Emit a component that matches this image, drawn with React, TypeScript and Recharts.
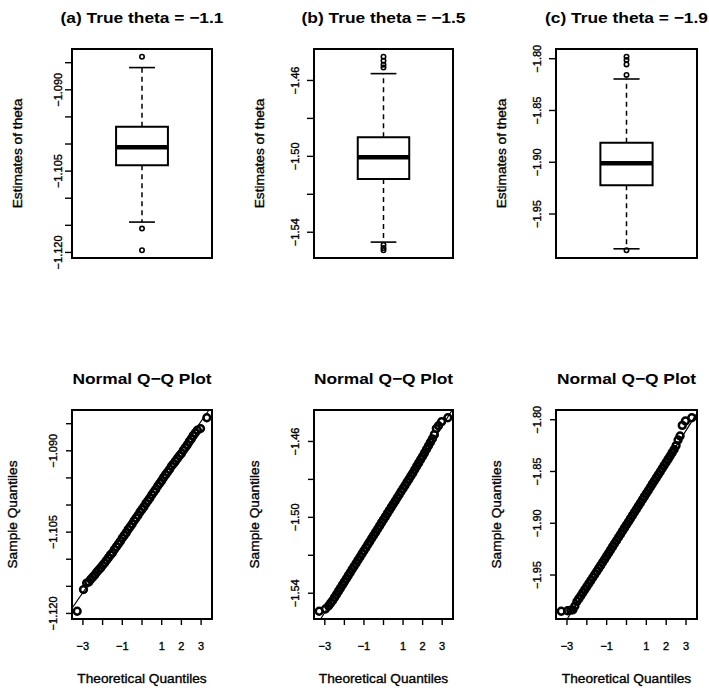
import React from 'react';
import { ComposedChart, Scatter, XAxis, YAxis, ReferenceArea, ReferenceLine } from 'recharts';

// ---------- data ----------
const panelTitles = ['(a) True theta = \u22121.1', '(b) True theta = \u22121.5', '(c) True theta = \u22121.9'];
const qqTitle = 'Normal Q\u2212Q Plot';
const boxYLabel = 'Estimates of theta';
const qqYLabel = 'Sample Quantiles';
const qqXLabel = 'Theoretical Quantiles';

// [lower whisker, Q1, median, Q3, upper whisker]
const boxStatsA = [-1.1144, -1.1039, -1.1006, -1.0968, -1.0859];
const boxStatsB = [-1.5452, -1.512, -1.5005, -1.4899, -1.4564];
const boxStatsC = [-1.9836, -1.9221, -1.901, -1.8811, -1.8196];

const outliersA = [-1.0839, -1.1156, -1.1196];
const outliersB = [-1.4475, -1.4496, -1.4517, -1.4532, -1.5467, -1.5483, -1.5495];
const outliersC = [-1.7981, -1.8012, -1.8055, -1.8157, -1.985];

const theoretical = [
  -3.29, -2.97, -2.81, -2.7, -2.6, -2.5, -2.4, -2.3, -2.2, -2.1, -2.0, -1.9, -1.8, -1.7, -1.6, -1.5,
  -1.4, -1.3, -1.2, -1.1, -1.0, -0.9, -0.8, -0.7, -0.6, -0.5, -0.4, -0.3, -0.2, -0.1, 0, 0.1, 0.2,
  0.3, 0.4, 0.5, 0.6, 0.7, 0.8, 0.9, 1.0, 1.1, 1.2, 1.3, 1.4, 1.5, 1.6, 1.7, 1.8, 1.9, 2.0, 2.1,
  2.2, 2.3, 2.4, 2.5, 2.6, 2.7, 2.81, 2.97, 3.29,
];

const sampleA = [
  -1.1196, -1.1156, -1.1144, -1.1142, -1.1137, -1.1133, -1.1129, -1.1124, -1.112, -1.1116, -1.1111,
  -1.1107, -1.1102, -1.1097, -1.1092, -1.1088, -1.1082, -1.1077, -1.1072, -1.1067, -1.1061, -1.1056,
  -1.1051, -1.1045, -1.104, -1.1035, -1.1029, -1.1024, -1.1019, -1.1013, -1.1008, -1.1003, -1.0997,
  -1.0992, -1.0987, -1.0981, -1.0976, -1.0971, -1.0965, -1.096, -1.0955, -1.0949, -1.0944, -1.0939,
  -1.0934, -1.0928, -1.0924, -1.0919, -1.0914, -1.0909, -1.0905, -1.0899, -1.0894, -1.0889, -1.0883,
  -1.0878, -1.0872, -1.0867, -1.0862, -1.0859, -1.0839,
];

const sampleB = [
  -1.5495, -1.5483, -1.5467, -1.5452, -1.5438, -1.5422, -1.5406, -1.5389, -1.5373, -1.5356, -1.534,
  -1.5324, -1.5307, -1.5291, -1.5274, -1.5258, -1.5242, -1.5225, -1.5209, -1.5192, -1.5176, -1.516,
  -1.5143, -1.5127, -1.511, -1.5094, -1.5078, -1.5061, -1.5045, -1.5028, -1.5012, -1.4996, -1.4979,
  -1.4963, -1.4946, -1.493, -1.4914, -1.4897, -1.4881, -1.4864, -1.4848, -1.4832, -1.4815, -1.4799,
  -1.4782, -1.4766, -1.4748, -1.473, -1.4713, -1.4695, -1.4678, -1.466, -1.4641, -1.4623, -1.4604,
  -1.4586, -1.4564, -1.4532, -1.4517, -1.4496, -1.4475,
];

const sampleC = [
  -1.985, -1.9845, -1.984, -1.9836, -1.98, -1.9755, -1.9728, -1.97, -1.967, -1.9641, -1.9612,
  -1.9583, -1.9554, -1.9524, -1.9495, -1.9466, -1.9436, -1.9407, -1.9377, -1.9347, -1.9317, -1.9287,
  -1.9257, -1.9226, -1.9196, -1.9166, -1.9136, -1.9106, -1.9075, -1.9045, -1.9015, -1.8985, -1.8955,
  -1.8924, -1.8894, -1.8864, -1.8834, -1.8804, -1.8773, -1.8743, -1.8713, -1.8683, -1.8653, -1.8622,
  -1.8592, -1.8562, -1.8532, -1.8502, -1.8471, -1.8441, -1.8411, -1.8381, -1.8351, -1.8318, -1.8287,
  -1.825, -1.8196, -1.8157, -1.8055, -1.8012, -1.7981,
];

const yTicksA = [-1.085, -1.09, -1.095, -1.1, -1.105, -1.11, -1.115, -1.12];
const yTickLabelsA = ['', '\u22121.090', '', '', '\u22121.105', '', '', '\u22121.120'];
const yTicksB = [-1.46, -1.48, -1.5, -1.52, -1.54];
const yTickLabelsB = ['\u22121.46', '', '\u22121.50', '', '\u22121.54'];
const yTicksC = [-1.8, -1.85, -1.9, -1.95];
const yTickLabelsC = ['\u22121.80', '\u22121.85', '\u22121.90', '\u22121.95'];

const qqXTicks = [-3, -2, -1, 0, 1, 2, 3];
const qqXTickLabels = ['\u22123', '', '\u22121', '', '1', '2', '3'];

// ---------- layout ----------
const FONT = '"Liberation Sans", Arial, Helvetica, sans-serif';
const colLeft = [72, 314, 556];
const colWidth = [140, 139, 141];
const rowTop = [49, 410];
const PLOT_H = 209;
const Y_AXIS_W = 60;
const M = 5;
const BOX_BOTTOM = 24;
const X_AXIS_H = 40;
const IQR_TO_SD = 1.349;
const TEXT_EDGE = 0.35;

type Column = {
  stats: number[];
  outliers: number[];
  sample: number[];
  yTicks: number[];
  yLabels: string[];
};

const columns: Column[] = [
  { stats: boxStatsA, outliers: outliersA, sample: sampleA, yTicks: yTicksA, yLabels: yTickLabelsA },
  { stats: boxStatsB, outliers: outliersB, sample: sampleB, yTicks: yTicksB, yLabels: yTickLabelsB },
  { stats: boxStatsC, outliers: outliersC, sample: sampleC, yTicks: yTicksC, yLabels: yTickLabelsC },
];

// R-style axis range: data range widened by 4% on each side
function padRange(vals: number[]): [number, number] {
  const lo = Math.min(...vals);
  const hi = Math.max(...vals);
  const p = (hi - lo) * 0.04;
  return [lo - p, hi + p];
}

function makeYTick(values: number[], labels: string[]) {
  return (props: any) => {
    const { x, y, payload } = props;
    const i = values.findIndex((v) => Math.abs(v - payload.value) < 1e-9);
    const label = i >= 0 ? labels[i] : '';
    if (!label) return <g />;
    return (
      <text
        transform={`translate(${x},${y}) rotate(-90)`}
        textAnchor="middle"
        fontSize={11}
        fontFamily={FONT}
        fill="#000"
        stroke="#000"
        strokeWidth={TEXT_EDGE}
      >
        {label}
      </text>
    );
  };
}

function QQXTick(props: any) {
  const { x, y, payload } = props;
  const i = qqXTicks.findIndex((v) => Math.abs(v - payload.value) < 1e-9);
  const label = i >= 0 ? qqXTickLabels[i] : '';
  if (!label) return <g />;
  return (
    <text
      x={x}
      y={y}
      textAnchor="middle"
      fontSize={11}
      fontFamily={FONT}
      fill="#000"
      stroke="#000"
      strokeWidth={TEXT_EDGE}
    >
      {label}
    </text>
  );
}

const OpenCircle = (r: number, sw: number) => (props: any) => (
  <circle cx={props.cx} cy={props.cy} r={r} fill="none" stroke="#000" strokeWidth={sw} />
);

const axisTick = { stroke: '#000', strokeWidth: 1.4 };

function BoxPanel({ col, labelGap }: { col: number; labelGap: number }) {
  const c = columns[col];
  const [lowW, q1, med, q3, highW] = c.stats;
  const yDomain = padRange(c.sample);
  const xDomain: [number, number] = [0.46, 1.54];
  const outlierData = c.outliers.map((v) => ({ x: 1, y: v }));
  const w = Y_AXIS_W + colWidth[col] + M;
  const h = M + PLOT_H + BOX_BOTTOM;
  return (
    <div style={{ position: 'absolute', left: colLeft[col] - Y_AXIS_W, top: rowTop[0] - M }}>
      <ComposedChart width={w} height={h} margin={{ top: M, right: M, bottom: BOX_BOTTOM, left: 0 }}>
        <XAxis type="number" dataKey="x" domain={xDomain} allowDataOverflow hide />
        <YAxis
          type="number"
          dataKey="y"
          domain={yDomain}
          allowDataOverflow
          width={Y_AXIS_W}
          ticks={c.yTicks}
          interval={0}
          axisLine={false}
          tickLine={axisTick}
          tickSize={7}
          tickMargin={labelGap - 7}
          tick={makeYTick(c.yTicks, c.yLabels)}
        />
        <ReferenceArea
          x1={xDomain[0]}
          x2={xDomain[1]}
          y1={yDomain[0]}
          y2={yDomain[1]}
          fill="none"
          stroke="#000"
          strokeWidth={2}
          ifOverflow="visible"
        />
        <ReferenceArea x1={0.8} x2={1.2} y1={q1} y2={q3} fill="none" stroke="#000" strokeWidth={2} ifOverflow="visible" />
        <ReferenceLine segment={[{ x: 0.8, y: med }, { x: 1.2, y: med }]} stroke="#000" strokeWidth={4.5} ifOverflow="visible" />
        <ReferenceLine segment={[{ x: 1, y: q3 }, { x: 1, y: highW }]} stroke="#000" strokeWidth={1.5} strokeDasharray="5 4" ifOverflow="visible" />
        <ReferenceLine segment={[{ x: 1, y: q1 }, { x: 1, y: lowW }]} stroke="#000" strokeWidth={1.5} strokeDasharray="5 4" ifOverflow="visible" />
        <ReferenceLine segment={[{ x: 0.9, y: highW }, { x: 1.1, y: highW }]} stroke="#000" strokeWidth={1.6} ifOverflow="visible" />
        <ReferenceLine segment={[{ x: 0.9, y: lowW }, { x: 1.1, y: lowW }]} stroke="#000" strokeWidth={1.6} ifOverflow="visible" />
        <Scatter data={outlierData} dataKey="y" shape={OpenCircle(2.2, 1.6)} isAnimationActive={false} />
      </ComposedChart>
    </div>
  );
}

function QQPanel({ col }: { col: number }) {
  const c = columns[col];
  const yDomain = padRange(c.sample);
  const xDomain = padRange(theoretical);
  const points = theoretical.map((t, i) => ({ x: t, y: c.sample[i] }));
  // reference line through the quartiles
  const q1 = c.stats[1];
  const q3 = c.stats[3];
  const a = (q1 + q3) / 2;
  const b = (q3 - q1) / IQR_TO_SD;
  const xs = Math.max(xDomain[0], (yDomain[0] - a) / b);
  const xe = Math.min(xDomain[1], (yDomain[1] - a) / b);
  const w = Y_AXIS_W + colWidth[col] + M;
  const h = M + PLOT_H + X_AXIS_H + M;
  return (
    <div style={{ position: 'absolute', left: colLeft[col] - Y_AXIS_W, top: rowTop[1] - M }}>
      <ComposedChart width={w} height={h} margin={{ top: M, right: M, bottom: M, left: 0 }}>
        <XAxis
          type="number"
          dataKey="x"
          domain={xDomain}
          allowDataOverflow
          height={X_AXIS_H}
          ticks={qqXTicks}
          interval={0}
          axisLine={false}
          tickLine={axisTick}
          tickSize={6}
          tickMargin={25}
          tick={<QQXTick />}
        />
        <YAxis
          type="number"
          dataKey="y"
          domain={yDomain}
          allowDataOverflow
          width={Y_AXIS_W}
          ticks={c.yTicks}
          interval={0}
          axisLine={false}
          tickLine={axisTick}
          tickSize={6}
          tickMargin={9.5}
          tick={makeYTick(c.yTicks, c.yLabels)}
        />
        <ReferenceArea
          x1={xDomain[0]}
          x2={xDomain[1]}
          y1={yDomain[0]}
          y2={yDomain[1]}
          fill="none"
          stroke="#000"
          strokeWidth={2}
          ifOverflow="visible"
        />
        <ReferenceLine segment={[{ x: xs, y: a + b * xs }, { x: xe, y: a + b * xe }]} stroke="#000" strokeWidth={1.2} ifOverflow="visible" />
        <Scatter data={points} dataKey="y" shape={OpenCircle(3.4, 2.5)} isAnimationActive={false} />
      </ComposedChart>
    </div>
  );
}

export default function App() {
  const centers = colLeft.map((l, i) => l + colWidth[i] / 2);
  const plotMidY = rowTop.map((t) => t + PLOT_H / 2);
  return (
    <div
      style={{
        position: 'absolute',
        left: 0,
        top: 0,
        width: 709,
        height: 688,
        background: '#fff',
        overflow: 'hidden',
      }}
    >
      {[0, 1, 2].map((i) => (
        <BoxPanel key={`b${i}`} col={i} labelGap={i === 0 ? 10 : 15.5} />
      ))}
      {[0, 1, 2].map((i) => (
        <QQPanel key={`q${i}`} col={i} />
      ))}
      <svg
        width={709}
        height={688}
        style={{ position: 'absolute', left: 0, top: 0, pointerEvents: 'none' }}
        fontFamily={FONT}
      >
        {panelTitles.map((t, i) => (
          <text key={`t${i}`} transform={`translate(${centers[i]},23) scale(1.12,1)`} textAnchor="middle" fontWeight="bold" fontSize={15.5} fill="#000">
            {t}
          </text>
        ))}
        {centers.map((cx, i) => (
          <text key={`q${i}`} transform={`translate(${cx},384) scale(1.12,1)`} textAnchor="middle" fontWeight="bold" fontSize={15.5} fill="#000">
            {qqTitle}
          </text>
        ))}
        {colLeft.map((l, i) => (
          <text key={`by${i}`} transform={`translate(${l - 50},${plotMidY[0]}) rotate(-90)`} textAnchor="middle" fontSize={13.7} fill="#000" stroke="#000" strokeWidth={TEXT_EDGE}>
            {boxYLabel}
          </text>
        ))}
        {colLeft.map((l, i) => (
          <text key={`qy${i}`} transform={`translate(${l - 55},${plotMidY[1]}) rotate(-90)`} textAnchor="middle" fontSize={13.7} fill="#000" stroke="#000" strokeWidth={TEXT_EDGE}>
            {qqYLabel}
          </text>
        ))}
        {centers.map((cx, i) => (
          <text key={`qx${i}`} x={cx} y={683} textAnchor="middle" fontSize={13.7} fill="#000" stroke="#000" strokeWidth={TEXT_EDGE}>
            {qqXLabel}
          </text>
        ))}
      </svg>
    </div>
  );
}
